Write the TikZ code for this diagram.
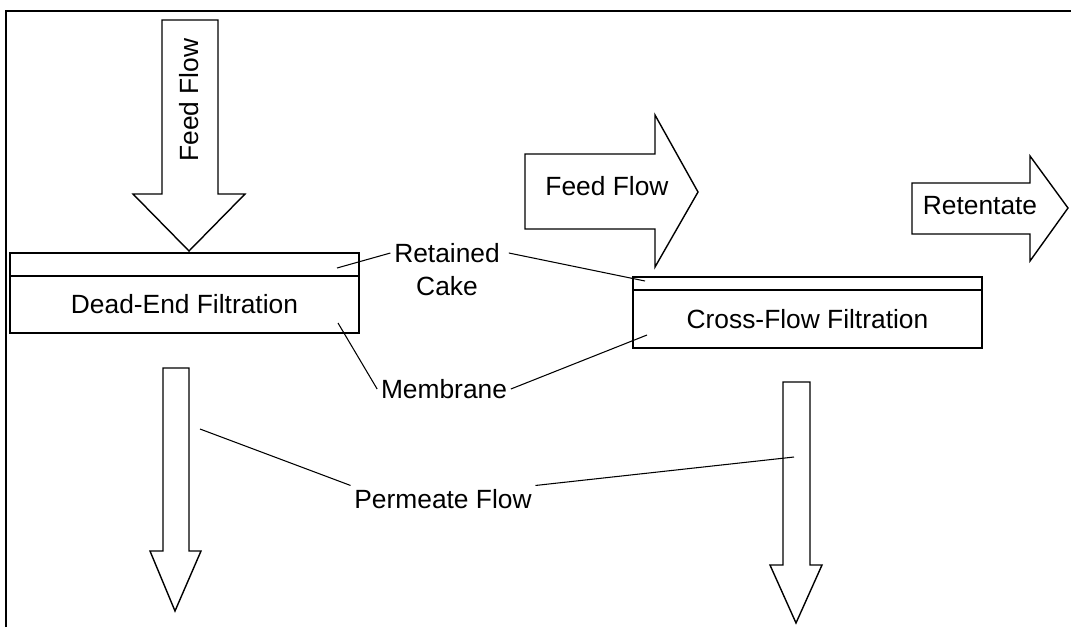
\documentclass[tikz,border=0pt]{standalone}
\usepackage{fontspec}
\setmainfont{Liberation Sans}
\usetikzlibrary{positioning}
\tikzstyle{layer}      = [rectangle, draw, line width=0.8pt, minimum width=6.98cm, inner sep=0pt, outer sep=0pt, anchor=north west, font=\fontsize{15}{18}\selectfont]
\tikzstyle{blockarrow} = [draw, line width=0.8pt, fill=white, line join=miter]
\tikzstyle{lbl}        = [font=\fontsize{15}{18}\selectfont, inner sep=2pt]
\tikzstyle{leader}     = [line width=0.6pt]

\begin{document}
\begin{tikzpicture}[x=0.02cm, y=-0.02cm]
    \useasboundingbox (0,0) rectangle (1071,627);
    \draw [line width=1pt] (6,627) -- (6,11) -- (1071,11);

    % dead-end side
    \node (cakeA) [layer, minimum height=0.46cm] at (10,253) {};
    \node (memA) [layer, minimum height=1.14cm, below=0pt of cakeA] {Dead-End Filtration};
    \draw [blockarrow] (162,20) -- (218,20) -- (218,194) -- (245,194) -- (189,251) -- (133,194) -- (162,194) -- cycle;
    \node (feedA) [lbl, rotate=90] at (189,100) {Feed Flow};
    \draw [blockarrow] (163,368) -- (189,368) -- (189,551) -- (201,551) -- (175,611) -- (150,551) -- (163,551) -- cycle;

    % cross-flow side
    \node (cakeB) [layer, minimum height=0.26cm] at (633,277) {};
    \node (memB) [layer, minimum height=1.16cm, below=0pt of cakeB] {Cross-Flow Filtration};
    \draw [blockarrow] (525,154) -- (655,154) -- (655,115) -- (698,192) -- (655,267) -- (655,229) -- (525,229) -- cycle;
    \node (feedB) [lbl] at (607,186) {Feed Flow};
    \draw [blockarrow] (912,183) -- (1030,183) -- (1030,156) -- (1068,208) -- (1030,261) -- (1030,234) -- (912,234) -- cycle;
    \node (ret) [lbl] at (980,206) {Retentate};
    \draw [blockarrow] (783,382) -- (810,382) -- (810,565) -- (822,565) -- (796,623) -- (770,565) -- (783,565) -- cycle;

    % labels
    \node (retained) [lbl] at (447,253) {Retained};
    \node (cake) [lbl] at (447,286) {Cake};
    \node (membrane) [lbl] at (444,389) {Membrane};
    \node (permeate) [lbl] at (443,499) {Permeate Flow};

    \coordinate (cakeAend) at (337,268);
    \coordinate (cakeBend) at (645,281);
    \coordinate (memAend) at (338,323);
    \coordinate (memBend) at (647,335);
    \coordinate (permAend) at (200,429);
    \coordinate (permBend) at (794,457);

    \draw [leader] (retained.west) -- (cakeAend);
    \draw [leader] ([xshift=3pt]retained.east) -- (cakeBend);
    \draw [leader] (membrane.west) -- (memAend);
    \draw [leader] (membrane.east) -- (memBend);
    \draw [leader] (permeate.north west) -- (permAend);
    \draw [leader] (permeate.north east) -- (permBend);
\end{tikzpicture}
\end{document}
